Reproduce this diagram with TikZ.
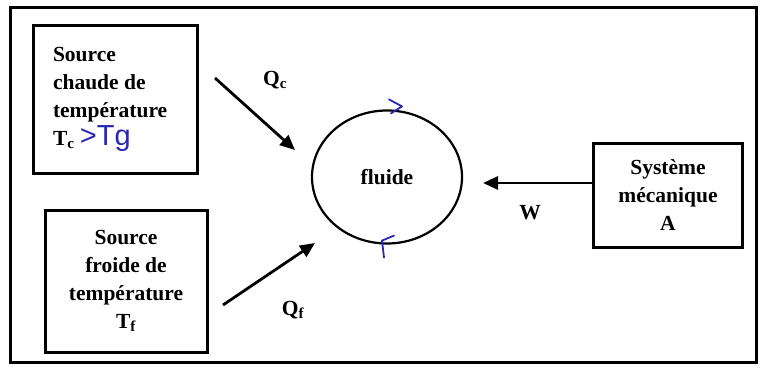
\documentclass[tikz,border=0pt]{standalone}
\usepackage{fontspec}
\setmainfont{Liberation Serif}
\newfontfamily\handfont{Liberation Sans}
\usepackage{xcolor}
\usepackage{tikz}
\usetikzlibrary{arrows.meta, positioning, shapes.geometric, calc}
\definecolor{InkBlue}{RGB}{40,40,180}

\begin{document}
\begin{tikzpicture}[x=1pt, y=-1pt,
    source/.style={draw, line width=3pt, inner sep=0pt,
                   font=\fontsize{21.5}{28}\selectfont\bfseries},
    fluidbox/.style={draw, ellipse, line width=2.2pt, minimum width=150pt, minimum height=133pt,
                     inner sep=0pt, font=\fontsize{21.5}{28}\selectfont\bfseries},
    flow/.style={-{Triangle[length=15pt, width=13pt]}, line width=2.8pt},
    qlabel/.style={font=\fontsize{21.5}{24}\selectfont\bfseries},
    inkmark/.style={draw=InkBlue, line width=1.8pt, line cap=round, line join=round},
]
\useasboundingbox (0,0) rectangle (766,372);
\draw[line width=3pt] (10,7) rectangle (756,362);

\node[source, minimum width=164pt, minimum height=148pt, text width=124pt, align=flush left] (hot) at (115,99)
  {Source\\chaude de\\température\\T\textsubscript{c} {\mdseries\handfont\fontsize{29}{28}\selectfont\color{InkBlue}>Tg}};
\node[source, minimum width=162pt, minimum height=142pt, align=center] (cold) at (126,281)
  {Source\\froide de\\température\\T\textsubscript{f}};
\node[source, minimum width=149pt, minimum height=104pt, align=center] (mech) at (668,195)
  {Système\\mécanique\\A};
\node[fluidbox] (fluid) at (387,177) {fluide};

\coordinate (qc start) at (215,78);
\coordinate (qc end) at (295,150);
\coordinate (qf start) at (223,305);
\coordinate (qf end) at (315,243);
\coordinate (w end) at (483,183);

\draw[flow] (qc start) -- (qc end);
\draw[flow] (qf start) -- (qf end);
\draw[flow] (mech.west |- w end) -- (w end);

\node[qlabel] (qc) at (275,80) {Q\textsubscript{c}};
\node[qlabel] (qf) at (293,310) {Q\textsubscript{f}};
\node[qlabel] (w) at (530,213) {W};

% sens du cycle (ajout manuscrit)
\draw[inkmark] ($(fluid.north)+(2,-10)$) -- ++(13,7) -- ++(-11,7);
\draw[inkmark] ($(fluid.south)+(7,-9)$) -- ++(-12,5) -- ++(2,17);
\end{tikzpicture}
\end{document}
